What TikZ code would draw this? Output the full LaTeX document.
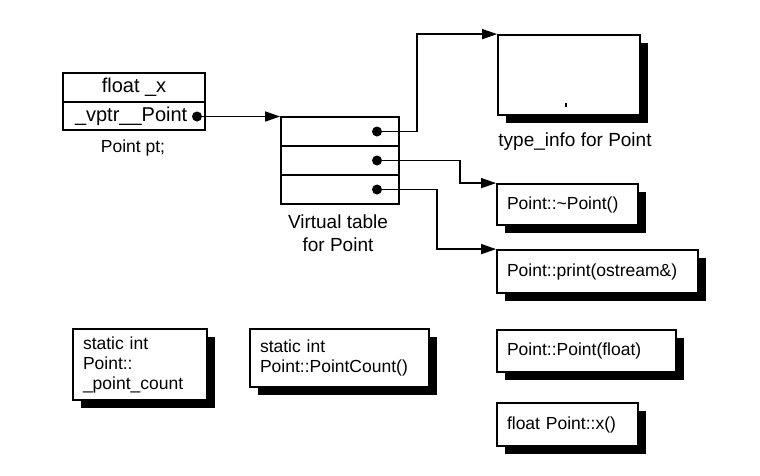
\documentclass[tikz,border=0pt]{standalone}
\usepackage{fontspec}
\setmainfont{Liberation Sans}
\usetikzlibrary{arrows.meta,shadows}
\begin{document}
\begin{tikzpicture}[x=1pt,y=-1pt,
  line width=1.8pt,
  cell/.style={draw, rectangle, inner sep=0pt, fill=white},
  fbox/.style={draw, rectangle, fill=white, inner xsep=10pt, inner ysep=0pt, align=left,
    font=\fontsize{17.5}{20}\selectfont,
    drop shadow={shadow xshift=8pt, shadow yshift=-8pt, fill=black, opacity=1}},
  dot/.style={circle, fill=black, inner sep=0pt, minimum size=10pt},
  arr/.style={line width=1.4pt, -{Triangle[length=15pt,width=10pt]}},
  lbl/.style={align=center, inner sep=0pt},
]
\useasboundingbox (0,0) rectangle (760,475);

% object Point pt
\node[cell, minimum width=142pt, minimum height=29pt, font=\fontsize{20}{22}\selectfont] (fx) at (134,87.5) {float \_x};
\node[cell, minimum width=142pt, minimum height=28pt, font=\fontsize{20}{22}\selectfont, align=left, text width=118pt, inner xsep=12pt] (vp) at (134,116) {\_vptr\_\_Point};
\node[dot] (d0) at (197,116.5) {};
\node[lbl, font=\fontsize{17.5}{20}\selectfont] (ptlbl) at (133,148) {Point pt;};

% virtual table
\node[cell, minimum width=118pt, minimum height=29pt] (vt1) at (340,131.5) {};
\node[cell, minimum width=118pt, minimum height=29pt] (vt2) at (340,160.5) {};
\node[cell, minimum width=118pt, minimum height=29pt] (vt3) at (340,189.5) {};
\node[dot] (d1) at (377,131.5) {};
\node[dot] (d2) at (377,160.5) {};
\node[dot] (d3) at (377,189.5) {};
\node[lbl, font=\fontsize{19}{23}\selectfont] (vtlbl) at (338,233.5) {Virtual table\\for Point};

% type_info
\node[fbox, minimum width=142pt, minimum height=80pt, inner xsep=0pt] (ti) at (569,75) {};
\fill (564.5,102.5) rectangle (566.5,107);
\node[lbl, font=\fontsize{19}{23}\selectfont] (tilbl) at (575,142) {type\_info for Point};

% virtual functions
\node[fbox, text width=121pt, minimum height=41pt] (dtor) at (567.5,204.5) {Point::\char`\~Point()};
\node[fbox, text width=181pt, minimum height=43pt] (prt) at (597.5,271.5) {Point::print(ostream\&)};

% non-virtual members
\node[fbox, text width=159pt, minimum height=42pt] (ctor) at (586.5,351) {Point::Point(float)};
\node[fbox, text width=121pt, minimum height=43pt] (getx) at (567.5,424.5) {float Point::x()};
\node[fbox, text width=114pt, minimum height=71pt] (pc) at (140,364.5) {static int\\Point::\\\_point\_count};
\node[fbox, text width=159pt, minimum height=58pt] (pcf) at (339.5,358) {static int\\Point::PointCount()};

% connectors
\draw[arr] (d0.center) -- (d0.center -| vt1.west);
\draw[arr] (d1.center) -- ++(40,0) |- (ti.north west);
\draw[arr] (d2.center) -- ++(83,0) |- (dtor.north west);
\draw[arr] (d3.center) -- ++(60,0) |- (prt.north west);
\end{tikzpicture}
\end{document}
